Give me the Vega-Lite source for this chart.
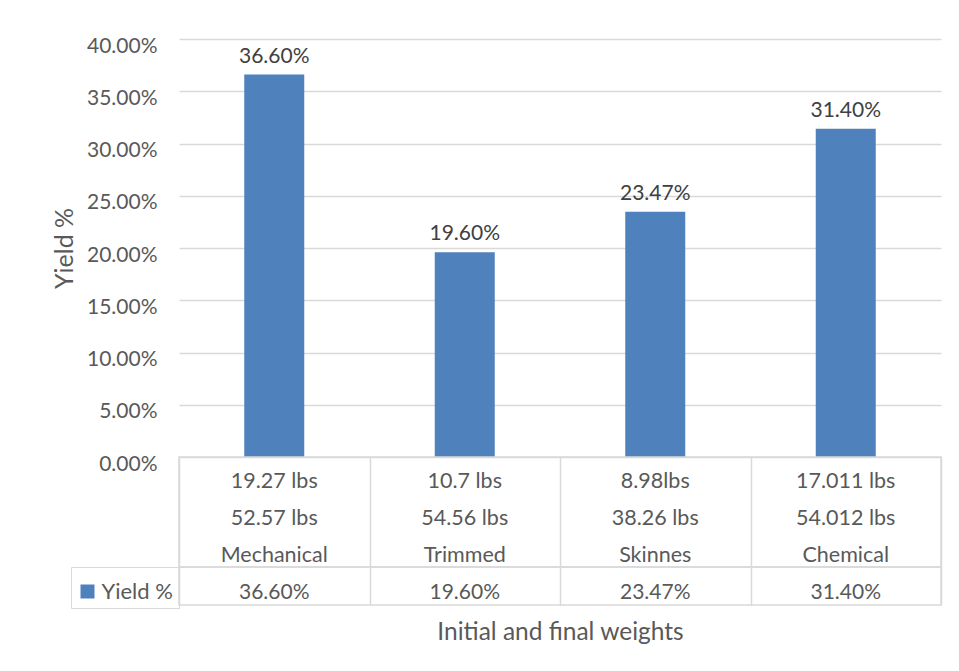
{
  "$schema": "https://vega.github.io/schema/vega-lite/v6.json",
  "padding": {"left": 52, "top": 35, "right": 17, "bottom": 20},
  "background": "white",
  "config": {"font": "Lato", "view": {"stroke": null}},
  "datasets": {
    "main": [
      {"method": "Mechanical", "w_final": "19.27 lbs", "w_initial": "52.57 lbs", "yield": 0.366, "series": "Yield %"},
      {"method": "Trimmed", "w_final": "10.7 lbs", "w_initial": "54.56 lbs", "yield": 0.196, "series": "Yield %"},
      {"method": "Skinnes", "w_final": "8.98lbs", "w_initial": "38.26 lbs", "yield": 0.2347, "series": "Yield %"},
      {"method": "Chemical", "w_final": "17.011 lbs", "w_initial": "54.012 lbs", "yield": 0.314, "series": "Yield %"}
    ]
  },
  "data": {"name": "main"},
  "spacing": 0,
  "bounds": "flush",
  "resolve": {"legend": {"color": "independent"}, "scale": {"color": "independent"}},
  "vconcat": [
    {
      "width": 762,
      "height": 418,
      "layer": [
        {
          "mark": {"type": "bar", "color": "#4f81bd", "width": {"band": 0.315}},
          "encoding": {
            "x": {"field": "method", "type": "nominal", "scale": {"type": "band", "domain": ["Mechanical", "Trimmed", "Skinnes", "Chemical"], "paddingInner": 0, "paddingOuter": 0}, "axis": null},
            "y": {
              "field": "yield", "type": "quantitative",
              "scale": {"domain": [0, 0.4], "nice": false},
              "axis": {
                "values": [0, 0.05, 0.1, 0.15, 0.2, 0.25, 0.3, 0.35, 0.4],
                "format": ".2%",
                "grid": true, "gridColor": "#d9d9d9", "gridWidth": 1.5,
                "domain": false, "ticks": false,
                "labelFontSize": 21, "labelColor": "#595959", "labelPadding": 22, "labelOffset": 7,
                "title": "Yield %", "titleFontSize": 25, "titleColor": "#595959", "titleFontWeight": "normal", "titlePadding": 9
              }
            }
          }
        },
        {
          "mark": {"type": "text", "baseline": "alphabetic", "dy": -12, "fontSize": 21, "color": "#404040"},
          "encoding": {
            "x": {"field": "method", "type": "nominal", "scale": {"type": "band", "domain": ["Mechanical", "Trimmed", "Skinnes", "Chemical"], "paddingInner": 0, "paddingOuter": 0}, "axis": null},
            "y": {"field": "yield", "type": "quantitative"},
            "text": {"field": "yield", "type": "quantitative", "format": ".2%"}
          }
        }
      ]
    },
    {
      "width": 762,
      "height": 110,
      "view": {"stroke": "#d9d9d9", "strokeWidth": 1.5},
      "transform": [{"fold": ["w_final", "w_initial", "method"], "as": ["row", "label"]}],
      "mark": {"type": "text", "fontSize": 21.5, "color": "#595959", "baseline": "middle", "dy": 7},
      "encoding": {
        "x": {
          "field": "method", "type": "nominal",
          "scale": {"type": "band", "domain": ["Mechanical", "Trimmed", "Skinnes", "Chemical"], "paddingInner": 0, "paddingOuter": 0},
          "axis": {"grid": true, "tickBand": "extent", "gridColor": "#d9d9d9", "gridWidth": 1.5, "labels": false, "ticks": false, "domain": false, "title": null}
        },
        "y": {"field": "row", "type": "nominal", "scale": {"domain": ["w_final", "w_initial", "method"]}, "axis": null},
        "text": {"field": "label", "type": "nominal"}
      }
    },
    {
      "width": 762,
      "height": 38,
      "view": {"stroke": "#d9d9d9", "strokeWidth": 1.5},
      "encoding": {
        "x": {
          "field": "method", "type": "nominal",
          "scale": {"type": "band", "domain": ["Mechanical", "Trimmed", "Skinnes", "Chemical"], "paddingInner": 0, "paddingOuter": 0},
          "axis": {"grid": true, "tickBand": "extent", "gridColor": "#d9d9d9", "gridWidth": 1.5, "labels": false, "ticks": false, "domain": false,
                   "title": "Initial and final weights", "titleFontSize": 24.5, "titleColor": "#595959", "titleFontWeight": "normal", "titlePadding": 15}
        }
      },
      "layer": [
        {
          "mark": {"type": "text", "fontSize": 21, "baseline": "middle", "dy": 7, "color": "#595959"},
          "encoding": {
            "text": {"field": "yield", "type": "quantitative", "format": ".2%"}
          }
        },
        {
          "mark": {"type": "point", "shape": "square", "filled": true, "opacity": 0},
          "encoding": {
            "color": {
              "field": "series", "type": "nominal",
              "scale": {"range": ["#4f81bd"]},
              "legend": {
                "orient": "left", "offset": 0, "title": " ", "titleFontSize": 2, "titlePadding": 6, "padding": 5.5,
                "strokeColor": "#d9d9d9",
                "labelFontSize": 22, "labelColor": "#595959", "labelOffset": 3,
                "symbolType": "square", "symbolSize": 196, "symbolOpacity": 1, "symbolStrokeWidth": 0
              }
            }
          }
        }
      ]
    }
  ]
}
